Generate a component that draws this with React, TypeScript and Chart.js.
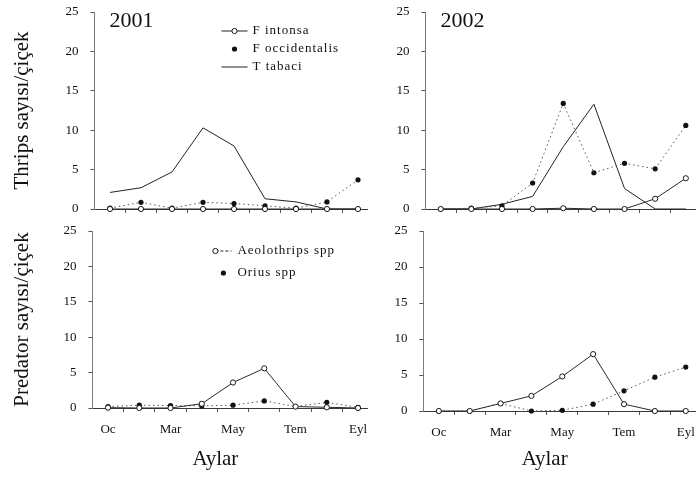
import React, { useEffect, useRef } from 'react';
import { Chart, registerables } from 'chart.js';

Chart.register(...registerables);

// ---- data ----
const monthLabels = ['Oc', '', 'Mar', '', 'May', '', 'Tem', '', 'Eyl'];
const pointIndex = [0, 1, 2, 3, 4, 5, 6, 7, 8];
const yTickValues = [0, 5, 10, 15, 20, 25];
const xTickValues = [0, 0.5, 1, 1.5, 2, 2.5, 3, 3.5, 4, 4.5, 5, 5.5, 6, 6.5, 7, 7.5, 8];

const intonsa2001 = [0, 0, 0, 0, 0, 0, 0, 0, 0];
const occidentalis2001 = [0.1, 0.85, 0.1, 0.85, 0.7, 0.4, 0.1, 0.9, 3.7];
const tabaci2001 = [2.1, 2.7, 4.7, 10.3, 8.0, 1.3, 0.9, 0, 0];

const intonsa2002 = [0, 0, 0, 0, 0.1, 0, 0, 1.3, 3.9];
const occidentalis2002 = [0, 0.1, 0.4, 3.3, 13.4, 4.6, 5.8, 5.1, 10.6];
const tabaci2002 = [0, 0, 0.6, 1.6, 7.9, 13.3, 2.6, 0, 0];

const aeolothrips2001 = [0.05, 0, 0, 0.6, 3.6, 5.6, 0.2, 0.1, 0];
const orius2001 = [0.2, 0.4, 0.35, 0.3, 0.4, 1.0, 0.2, 0.8, 0.1];

const aeolothrips2002 = [0, 0, 1.05, 2.1, 4.8, 7.9, 0.95, 0, 0];
const orius2002 = [0, 0, 1.05, 0, 0.1, 0.95, 2.8, 4.7, 6.1];

const thripsNames = ['F intonsa', 'F occidentalis', 'T tabaci'];
const predatorNames = ['Aeolothrips spp', 'Orius spp'];

const FONT = "'Liberation Serif', 'Times New Roman', serif";
const W = 700;
const H = 477;

const toXY = (vals: number[]) => vals.map((v, i) => ({ x: pointIndex[i], y: v }));

const openStyle = (label: string, vals: number[]) => ({
  label,
  data: toXY(vals),
  borderColor: '#2a2a2a',
  borderWidth: 1,
  pointRadius: 2.6,
  pointBorderWidth: 1,
  pointBackgroundColor: '#ffffff',
  pointBorderColor: '#1a1a1a',
  clip: false,
});
const dotStyle = (label: string, vals: number[]) => ({
  label,
  data: toXY(vals),
  borderColor: '#555',
  borderWidth: 1,
  borderDash: [1.5, 3],
  pointRadius: 2.6,
  pointBorderWidth: 0,
  pointBackgroundColor: '#111',
  pointBorderColor: '#111',
  clip: false,
});
const plainStyle = (label: string, vals: number[]) => ({
  label,
  data: toXY(vals),
  borderColor: '#222',
  borderWidth: 1,
  pointRadius: 0,
  clip: false,
});

const decorPlugin = {
  id: 'decor',
  afterDraw(chart: any, _args: any, opts: any) {
    const { ctx, chartArea } = chart;
    ctx.save();
    if (opts.year) {
      ctx.fillStyle = '#111';
      ctx.font = `22px ${FONT}`;
      ctx.textAlign = 'left';
      ctx.textBaseline = 'alphabetic';
      ctx.fillText(opts.year, chartArea.left + 15, chartArea.top + 15);
    }
    if (opts.xTitle) {
      ctx.fillStyle = '#111';
      ctx.font = `21px ${FONT}`;
      ctx.textAlign = 'center';
      ctx.textBaseline = 'middle';
      ctx.fillText(opts.xTitle, (chartArea.left + chartArea.right) / 2 - 14.5, chart.height - 17.6);
    }
    const lg = opts.legend;
    if (lg) {
      lg.rows.forEach((row: any, i: number) => {
        const ds = chart.data.datasets[row.ds];
        const y = chartArea.top + lg.dy + i * lg.gap;
        const x0 = chartArea.left + lg.dx;
        if (row.line) {
          ctx.beginPath();
          ctx.setLineDash(row.dash || []);
          ctx.strokeStyle = '#222';
          ctx.lineWidth = 1;
          ctx.moveTo(x0 + row.line[0], y);
          ctx.lineTo(x0 + row.line[1], y);
          ctx.stroke();
          ctx.setLineDash([]);
        }
        if (row.marker !== null && row.marker !== undefined) {
          ctx.beginPath();
          ctx.arc(x0 + row.marker, y, 2.6, 0, Math.PI * 2);
          ctx.fillStyle = ds.pointBackgroundColor;
          ctx.fill();
          if (ds.pointBorderWidth) {
            ctx.strokeStyle = ds.pointBorderColor;
            ctx.lineWidth = 1;
            ctx.stroke();
          }
        }
        ctx.fillStyle = '#111';
        ctx.font = `13px ${FONT}`;
        (ctx as any).letterSpacing = '1px';
        ctx.textAlign = 'left';
        ctx.textBaseline = 'middle';
        ctx.fillText(ds.label, x0 + lg.textDx, y);
        (ctx as any).letterSpacing = '0px';
      });
    }
    ctx.restore();
  },
};

type PanelCfg = {
  L: number; T: number; R: number; B: number; xH: number;
  showX: boolean; yTitle?: string; xTitle?: string; year?: string;
  datasets: any[]; legend?: any;
};

const panels: PanelCfg[] = [
  {
    L: 94.5, T: 12, R: 367.3, B: 209, xH: 10, showX: false,
    yTitle: 'Thrips sayısı/çiçek', year: '2001',
    datasets: [
      openStyle(thripsNames[0], intonsa2001),
      dotStyle(thripsNames[1], occidentalis2001),
      plainStyle(thripsNames[2], tabaci2001),
    ],
    legend: {
      dx: 127, dy: 19, gap: 18, textDx: 31,
      rows: [
        { ds: 0, line: [0, 26], marker: 13 },
        { ds: 1, marker: 13 },
        { ds: 2, line: [0, 26] },
      ],
    },
  },
  {
    L: 425.4, T: 12, R: 699.1, B: 209, xH: 10, showX: false, year: '2002',
    datasets: [
      openStyle(thripsNames[0], intonsa2002),
      dotStyle(thripsNames[1], occidentalis2002),
      plainStyle(thripsNames[2], tabaci2002),
    ],
  },
  {
    L: 92.4, T: 231, R: 367.4, B: 408, xH: 65, showX: true,
    yTitle: 'Predator sayısı/çiçek', xTitle: 'Aylar',
    datasets: [
      openStyle(predatorNames[0], aeolothrips2001),
      dotStyle(predatorNames[1], orius2001),
    ],
    legend: {
      dx: 121, dy: 20, gap: 22, textDx: 24,
      rows: [
        { ds: 0, line: [2, 18], dash: [3, 2], marker: 2 },
        { ds: 1, marker: 10 },
      ],
    },
  },
  {
    L: 423.4, T: 231, R: 698.4, B: 411, xH: 62, showX: true, xTitle: 'Aylar',
    datasets: [
      openStyle(predatorNames[0], aeolothrips2002),
      dotStyle(predatorNames[1], orius2002),
    ],
  },
];

function Panel({ cfg }: { cfg: PanelCfg }) {
  const ref = useRef<HTMLCanvasElement | null>(null);
  useEffect(() => {
    if (!ref.current) return;
    const chart = new Chart(ref.current, {
      type: 'line',
      data: { datasets: cfg.datasets },
      plugins: [decorPlugin as any],
      options: {
        responsive: false,
        animation: false,
        events: [],
        layout: {
          padding: { left: 0, top: cfg.T, right: W - cfg.R, bottom: H - cfg.B - cfg.xH },
        },
        plugins: {
          legend: { display: false },
          tooltip: { enabled: false },
          decor: { year: cfg.year, legend: cfg.legend, xTitle: cfg.xTitle },
        } as any,
        scales: {
          x: {
            type: 'linear',
            min: -0.5,
            max: 8.3,
            afterBuildTicks: (s: any) => {
              s.ticks = xTickValues.map((v) => ({ value: v }));
            },
            afterFit: (s: any) => {
              s.height = cfg.xH;
              s.paddingLeft = 0;
              s.paddingRight = 0;
            },
            grid: {
              drawOnChartArea: false,
              drawTicks: true,
              tickLength: 4,
              tickColor: (c: any) =>
                c.tick && !Number.isInteger(c.tick.value) ? '#555' : 'rgba(0,0,0,0)',
            },
            border: { display: true, color: '#3a3a3a', width: 1 },
            ticks: {
              display: cfg.showX,
              autoSkip: false,
              maxRotation: 0,
              padding: 10,
              color: '#111',
              font: { family: FONT, size: 13 },
              callback: (v: any) =>
                Number.isInteger(v) && v >= 0 && v < monthLabels.length ? monthLabels[v] : '',
            },
            title: { display: false },
          },
          y: {
            type: 'linear',
            min: 0,
            max: 25,
            afterBuildTicks: (s: any) => {
              s.ticks = yTickValues.map((v) => ({ value: v }));
            },
            afterFit: (s: any) => {
              s.width = cfg.L;
              s.paddingTop = 0;
              s.paddingBottom = 0;
            },
            grid: { drawOnChartArea: false, drawTicks: true, tickLength: 4, tickColor: '#555' },
            border: { display: true, color: '#7a7a7a', width: 1 },
            ticks: {
              padding: 12,
              color: '#111',
              font: { family: FONT, size: 13 },
            },
            title: {
              display: !!cfg.yTitle,
              text: cfg.yTitle || '',
              color: '#111',
              font: { family: FONT, size: 21 },
              padding: { top: 10, bottom: 0 },
            },
          },
        },
      } as any,
    });
    return () => chart.destroy();
  }, [cfg]);
  return (
    <canvas
      ref={ref}
      width={W}
      height={H}
      style={{ position: 'absolute', left: 0, top: 0, width: W, height: H }}
    />
  );
}

export default function App() {
  return (
    <div style={{ position: 'absolute', left: 0, top: 0, width: W, height: H, background: '#fff' }}>
      {panels.map((p, i) => (
        <Panel key={i} cfg={p} />
      ))}
    </div>
  );
}
